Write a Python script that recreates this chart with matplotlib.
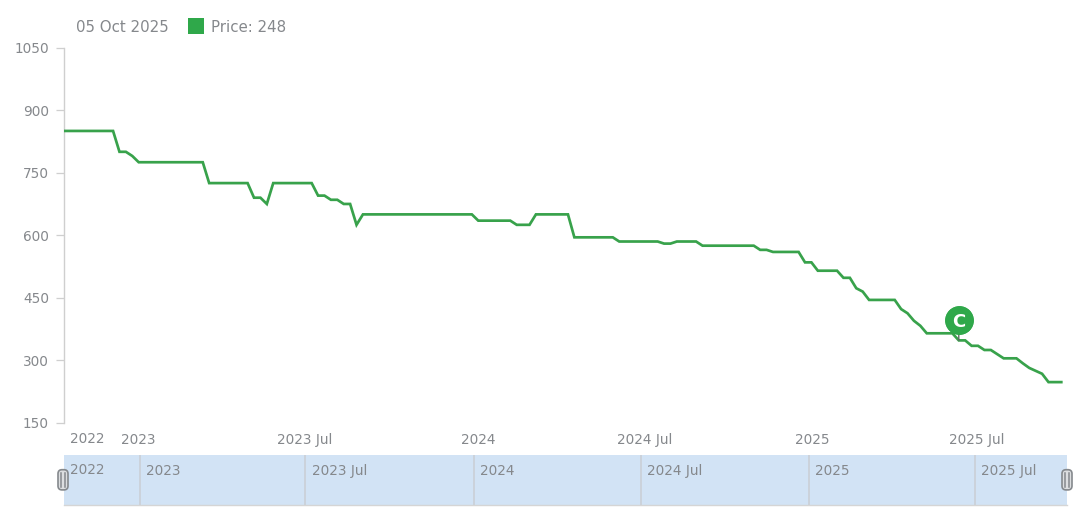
import matplotlib
matplotlib.use("Agg")
import matplotlib.pyplot as plt
import matplotlib.dates as mdates
from matplotlib.patches import FancyBboxPatch, Rectangle
from matplotlib.transforms import ScaledTranslation
import pandas as pd

# ---------- data ----------
prices = [
    850, 850, 850, 850, 850, 850, 850, 850, 850, 800, 800, 790,
    775, 775, 775, 775, 775, 775, 775, 775, 775, 775, 775,
    725, 725, 725, 725, 725, 725, 725, 690, 690, 675,
    725, 725, 725, 725, 725, 725, 725, 695, 695, 685, 685, 675, 675, 625,
    650, 650, 650, 650, 650, 650, 650, 650, 650, 650, 650, 650, 650, 650, 650, 650, 650, 650,
    635, 635, 635, 635, 635, 635, 625, 625, 625,
    650, 650, 650, 650, 650, 650,
    595, 595, 595, 595, 595, 595, 595,
    585, 585, 585, 585, 585, 585, 585, 580, 580, 585, 585, 585, 585,
    575, 575, 575, 575, 575, 575, 575, 575, 575, 565, 565,
    560, 560, 560, 560, 560, 535, 535, 515, 515, 515, 515, 498, 498, 473, 465,
    445, 445, 445, 445, 445, 423, 413, 395, 383,
    365, 365, 365, 365, 365, 348, 348, 335, 335, 325, 325, 315, 305, 305, 305,
    293, 282, 275, 268, 248, 248, 248,
]
dates = pd.date_range(end="2025-10-05", periods=len(prices), freq="7D")
y_ticks = [150, 300, 450, 600, 750, 900, 1050]
main_ticks = ["2023-01-01", "2023-07-01", "2024-01-01", "2024-07-01", "2025-01-01", "2025-07-01"]
main_labels = ["2023", "2023 Jul", "2024", "2024 Jul", "2025", "2025 Jul"]
first_label = "2022"
legend_date = "05 Oct 2025"
legend_text = "Price: 248"
event_date = "2025-06-15"
event_value = 348
event_label = "C"

# ---------- style ----------
W, H = 1083, 523
GREEN = "#38a24b"
BADGE = "#2fa84a"
TXT = "#85888c"
AXC = "#cfcfcf"
FS = 9.8
LEG_FS = 10.8
LABEL_SHIFT_PX = [0, 0.5, 5, 5.5, 4.5, 3.5]
plt.rcParams["font.family"] = "DejaVu Sans"

fig = plt.figure(figsize=(W / 100, H / 100), dpi=100, facecolor="white")


def box(x0, ytop, x1, ybot):
    return [x0 / W, 1 - ybot / H, (x1 - x0) / W, (ybot - ytop) / H]


PX_PER_DAY = 6.407 / 7
end = mdates.date2num(pd.Timestamp("2025-10-05"))

# ---------- main plot ----------
ax = fig.add_axes(box(64, 47.5, 1067, 423))
ax.set_xlim(end - (1061.3 - 64) / PX_PER_DAY, end + (1067 - 1061.3) / PX_PER_DAY)
ax.set_ylim(150, 1050)
ax.plot(dates, prices, color=GREEN, lw=1.95, solid_joinstyle="miter", zorder=3)

for s in ("top", "right", "bottom"):
    ax.spines[s].set_visible(False)
ax.spines["left"].set_color(AXC)
ax.spines["left"].set_linewidth(1.0)
ax.set_yticks(y_ticks)
ax.tick_params(axis="y", length=5.76, width=0.9, color=AXC, labelcolor=TXT, labelsize=FS, pad=5)
ax.set_xticks([mdates.date2num(pd.Timestamp(d)) for d in main_ticks])
ax.set_xticklabels(main_labels)
ax.tick_params(axis="x", length=0, labelcolor=TXT, labelsize=FS, pad=7.2)
for lab, dx in zip(ax.get_xticklabels(), LABEL_SHIFT_PX):
    lab.set_transform(lab.get_transform() + ScaledTranslation(dx / 100, 0, fig.dpi_scale_trans))
ax.text(70, H - 439, first_label, transform=None, color=TXT, fontsize=FS, ha="left", va="center")

# event badge
evx = mdates.date2num(pd.Timestamp(event_date))
offs = ax.transData + ScaledTranslation(0, 20 / 100, fig.dpi_scale_trans)
ax.plot([evx, evx], [event_value, event_value], transform=offs, marker="o", ms=19.6,
        mfc=BADGE, mec=BADGE, ls="none", zorder=5, clip_on=False)
ax.annotate("", xy=(evx, event_value), xytext=(0, 14.4), textcoords="offset points",
            arrowprops=dict(arrowstyle="-", color="#5d6b62", lw=1, shrinkA=0, shrinkB=0), zorder=4)
ax.annotate(event_label, xy=(evx, event_value), xytext=(0, 14.4), textcoords="offset points",
            color="white", fontsize=13, fontweight="bold", ha="center", va="center_baseline", zorder=6)

# ---------- scroller ----------
sc = fig.add_axes(box(63.5, 455, 1067, 505))
sc.set_facecolor("#d2e3f5")
k = 835 / (mdates.date2num(pd.Timestamp("2025-07-01")) - mdates.date2num(pd.Timestamp("2023-01-01")))
t0 = mdates.date2num(pd.Timestamp("2023-01-01"))
sc.set_xlim(t0 - (139.7 - 63.5) / k, t0 + (1067 - 139.7) / k)
sc.set_ylim(0, 1)
sc.set_yticks([])
sc.set_xticks([])
for s in ("top", "left", "right"):
    sc.spines[s].set_visible(False)
sc.spines["bottom"].set_color("#d5d5d5")
sc.spines["bottom"].set_linewidth(1.0)
for d, lab in zip(main_ticks, main_labels):
    xd = mdates.date2num(pd.Timestamp(d))
    sc.axvline(xd, color="#c9ced4", lw=1.1)
    sc.annotate(lab, xy=(xd, 1), xycoords=("data", "axes fraction"), xytext=(4.4, -11.2),
                textcoords="offset points", color=TXT, fontsize=FS, ha="left", va="center")
sc.text(70, H - 470, first_label, transform=None, color=TXT, fontsize=FS, ha="left", va="center")

# ---------- overlay in pixel coordinates ----------
ov = fig.add_axes([0, 0, 1, 1], facecolor="none")
ov.set_xlim(0, W)
ov.set_ylim(H, 0)
ov.axis("off")
ov.text(76, 27, legend_date, color=TXT, fontsize=LEG_FS, ha="left", va="center")
ov.add_patch(Rectangle((188, 18), 16, 16, fc=BADGE, ec="none"))
ov.text(211, 27, legend_text, color=TXT, fontsize=LEG_FS, ha="left", va="center")
for cx in (63, 1067):
    ov.add_patch(FancyBboxPatch((cx - 3.5, 471.2), 7, 17.2, boxstyle="round,pad=1.5,rounding_size=4",
                                fc="#dcdee0", ec="#85898d", lw=1.2, zorder=5))
    for dx in (-1.6, 1.6):
        ov.plot([cx + dx, cx + dx], [473, 487], color="#85898d", lw=1.1, zorder=6)

fig.savefig("out.png", dpi=100)
